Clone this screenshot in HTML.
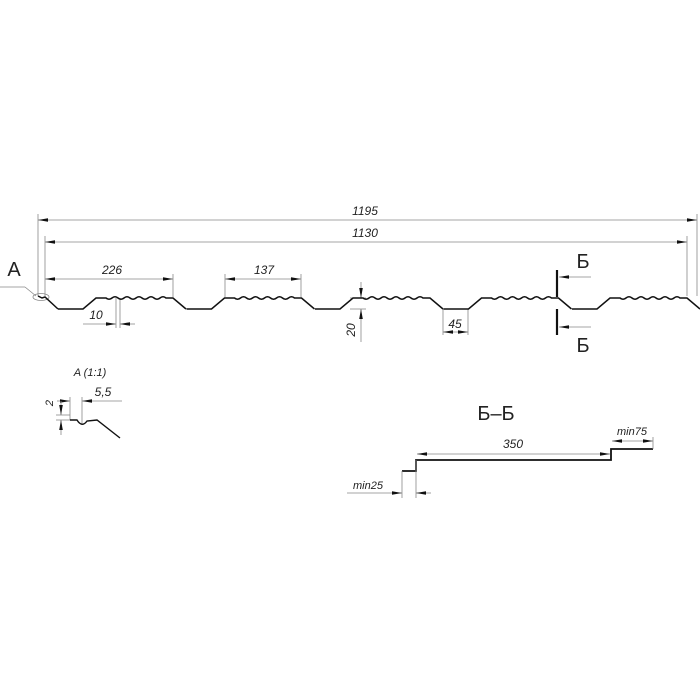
<!DOCTYPE html>
<html><head><meta charset="utf-8"><style>html,body{margin:0;padding:0;background:#fff}svg{display:block}text{font-family:"Liberation Sans",sans-serif;font-style:italic;fill:#222}</style></head>
<body>
<svg width="700" height="700" viewBox="0 0 700 700" xmlns="http://www.w3.org/2000/svg">
<defs>
<marker id="ar" markerWidth="10" markerHeight="6" refX="10" refY="3" orient="auto-start-reverse" markerUnits="userSpaceOnUse"><path d="M0,1.2 L10,3 L0,4.8Z" fill="#111"/></marker>
<g id="per">
<path d="M58,309 L83,309 L96,298 L106,298 q3,2.5 6,0 q3,-2.5 6,0 q3,2.5 6,0 q3,-2.5 6,0 q3,2.5 6,0 q3,-2.5 6,0 q3,2.5 6,0 q3,-2.5 6,0 q3,2.5 6,0 q3,-2.5 6,0 L173,298 L186,309" fill="none" stroke="#111" stroke-width="1.5"/>
</g>
</defs>
<g stroke="#888" stroke-width="0.8" fill="none">
<line x1="38" y1="214" x2="38" y2="296"/>
<line x1="45" y1="236" x2="45" y2="296"/>
<line x1="697" y1="214" x2="697" y2="296"/>
<line x1="687" y1="236" x2="687" y2="296"/>
<line x1="173" y1="274" x2="173" y2="297"/>
<line x1="225" y1="274" x2="225" y2="297"/>
<line x1="301" y1="274" x2="301" y2="297"/>
<line x1="116" y1="298" x2="116" y2="328"/>
<line x1="120" y1="298" x2="120" y2="328"/>
<line x1="443" y1="309" x2="443" y2="335"/>
<line x1="468" y1="309" x2="468" y2="335"/>
<line x1="350" y1="298" x2="366" y2="298"/>
<line x1="350" y1="309" x2="366" y2="309"/>
<line x1="0" y1="287" x2="25" y2="287"/><line x1="25" y1="287" x2="36" y2="296"/>
<line x1="38" y1="220" x2="697" y2="220" marker-start="url(#ar)" marker-end="url(#ar)"/>
<line x1="45" y1="242" x2="687" y2="242" marker-start="url(#ar)" marker-end="url(#ar)"/>
<line x1="45" y1="279" x2="173" y2="279" marker-start="url(#ar)" marker-end="url(#ar)"/>
<line x1="225" y1="279" x2="301" y2="279" marker-start="url(#ar)" marker-end="url(#ar)"/>
<line x1="83" y1="324" x2="116" y2="324" marker-end="url(#ar)"/>
<line x1="135" y1="324" x2="120" y2="324" marker-end="url(#ar)"/>
<line x1="361" y1="282" x2="361" y2="298" marker-end="url(#ar)"/>
<line x1="361" y1="342" x2="361" y2="309" marker-end="url(#ar)"/>
<line x1="443" y1="332" x2="468" y2="332" marker-start="url(#ar)" marker-end="url(#ar)"/>
<line x1="591" y1="277" x2="559" y2="277" marker-end="url(#ar)"/>
<line x1="591" y1="327" x2="559" y2="327" marker-end="url(#ar)"/>
<ellipse cx="41" cy="297" rx="8" ry="3.5"/>
</g>
<path d="M38,296 L42,298 L45,297 L58,309" fill="none" stroke="#111" stroke-width="1.5"/>
<use href="#per"/>
<use href="#per" transform="translate(128.5,0)"/>
<use href="#per" transform="translate(257,0)"/>
<use href="#per" transform="translate(385.5,0)"/>
<use href="#per" transform="translate(514,0)"/>
<line x1="557" y1="270" x2="557" y2="297" stroke="#111" stroke-width="2.2"/>
<line x1="557" y1="309" x2="557" y2="335" stroke="#111" stroke-width="2.2"/>
<text x="365" y="215" font-size="12" text-anchor="middle">1195</text>
<text x="365" y="237" font-size="12" text-anchor="middle">1130</text>
<text x="112" y="274" font-size="12" text-anchor="middle">226</text>
<text x="264" y="274" font-size="12" text-anchor="middle">137</text>
<text x="96" y="319" font-size="12" text-anchor="middle">10</text>
<text x="455" y="328" font-size="12" text-anchor="middle">45</text>
<text transform="translate(355,330) rotate(-90)" font-size="12" text-anchor="middle">20</text>
<text x="14" y="276" font-size="20" text-anchor="middle" style="font-style:normal">A</text>
<text x="583" y="268" font-size="20" text-anchor="middle" style="font-style:normal">Б</text>
<text x="583" y="352" font-size="20" text-anchor="middle" style="font-style:normal">Б</text>
<text x="90" y="376" font-size="11" text-anchor="middle">A (1:1)</text>
<text x="103" y="396" font-size="12" text-anchor="middle">5,5</text>
<text transform="translate(53,403) rotate(-90)" font-size="11" text-anchor="middle">2</text>
<g stroke="#888" stroke-width="0.8" fill="none">
<line x1="57" y1="401" x2="70" y2="401" marker-end="url(#ar)"/>
<line x1="122" y1="401" x2="82" y2="401" marker-end="url(#ar)"/>
<line x1="70" y1="397" x2="70" y2="420"/>
<line x1="82" y1="397" x2="82" y2="424"/>
<line x1="56" y1="415" x2="70" y2="415"/>
<line x1="56" y1="420" x2="70" y2="420"/>
<line x1="61" y1="401" x2="61" y2="415" marker-end="url(#ar)"/>
<line x1="61" y1="435" x2="61" y2="420" marker-end="url(#ar)"/>
</g>
<path d="M70,420 L77,420 Q82,428 87,421 L97,420 L120,438" fill="none" stroke="#111" stroke-width="1.4"/>
<text x="496" y="420" font-size="20" text-anchor="middle" style="font-style:normal">Б–Б</text>
<path d="M402,471 L416,471 L416,460 L611,460 L611,449 L653,449" fill="none" stroke="#111" stroke-width="1.8"/>
<g stroke="#888" stroke-width="0.8" fill="none">
<line x1="417" y1="454" x2="610" y2="454" marker-start="url(#ar)" marker-end="url(#ar)"/>
<line x1="653" y1="437" x2="653" y2="449"/>
<line x1="612" y1="441" x2="653" y2="441" marker-start="url(#ar)" marker-end="url(#ar)"/>
<line x1="402" y1="471" x2="402" y2="498"/>
<line x1="416" y1="460" x2="416" y2="498"/>
<line x1="347" y1="493" x2="402" y2="493" marker-end="url(#ar)"/>
<line x1="431" y1="493" x2="416" y2="493" marker-end="url(#ar)"/>
</g>
<text x="513" y="448" font-size="12" text-anchor="middle">350</text>
<text x="632" y="435" font-size="11" text-anchor="middle">min75</text>
<text x="368" y="489" font-size="11" text-anchor="middle">min25</text>
</svg>
</body></html>
